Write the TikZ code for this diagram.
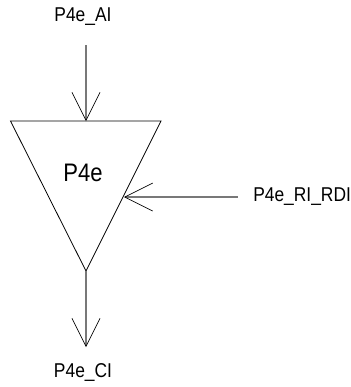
\documentclass[tikz,border=0pt]{standalone}
\usepackage{fontspec}
\setmainfont[FakeStretch=0.87]{Liberation Sans}
\usetikzlibrary{arrows.meta, positioning}
\definecolor{wiregray}{RGB}{120,120,120}

\begin{document}
\begin{tikzpicture}[x=0.75pt, y=-0.75pt,
  lbl/.style={font=\fontsize{15}{17}\selectfont, inner sep=0pt},
  wire/.style={draw=wiregray, line width=1pt, -{Straight Barb[black, length=21pt, width=21pt, line width=0.5pt]}},
]
  \useasboundingbox (0,0) rectangle (351,387);
  % Triangle
  \coordinate (tl) at (10.5,121);
  \coordinate (tr) at (161,121);
  \coordinate (tb) at (86,271);
  \draw[line width=0.6pt, line join=miter] (tl) -- (tr) -- (tb) -- cycle;
  \node[font=\fontsize{19}{21}\selectfont, inner sep=0pt] (p4e) at (83,173) {P4e};
  % Free ends
  \coordinate (topin) at (86,45);
  \coordinate (topend) at (86,121);
  \coordinate (sidein) at (238,197);
  \coordinate (sideend) at (124,197);
  \coordinate (botend) at (86,347);
  % Labels
  \node[lbl] (ai) at (83,17) {P4e\_AI};
  \node[lbl, anchor=west] (ri) at (253,197) {P4e\_RI\_RDI};
  \node[lbl] (ci) at (83,373) {P4e\_CI};
  % Arrows
  \draw[wire] (topin) -- (topend);
  \draw[wire] (sidein) -- (sideend);
  \draw[wire] (tb) -- (botend);
\end{tikzpicture}
\end{document}
